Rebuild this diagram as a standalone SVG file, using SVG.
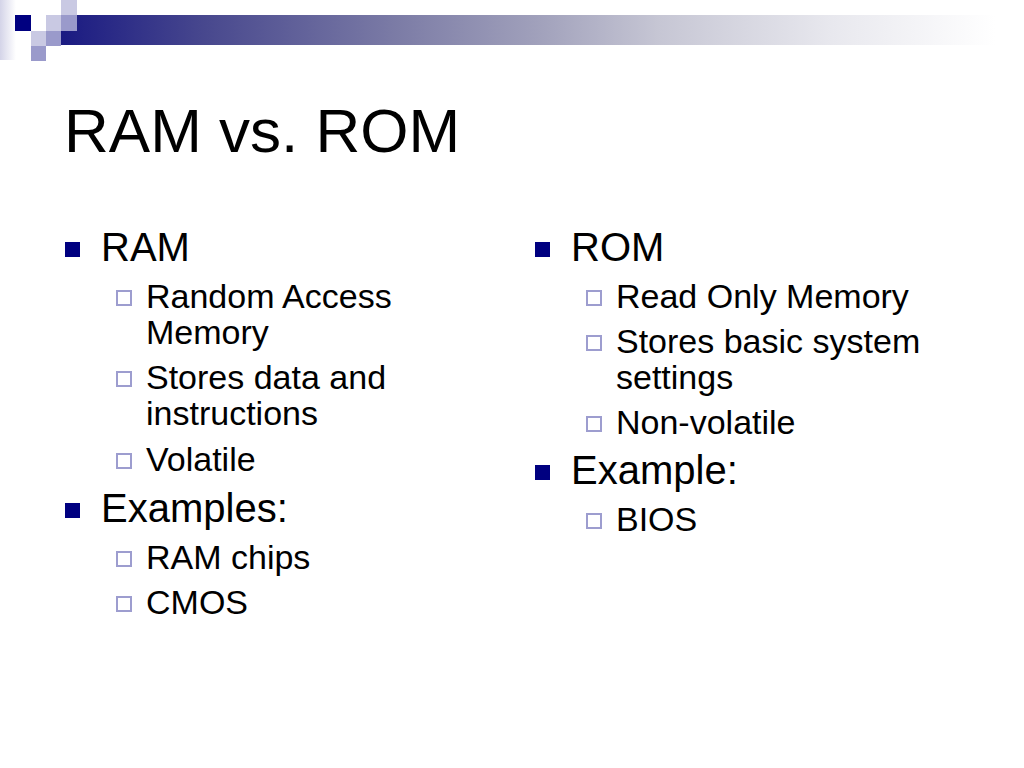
<svg xmlns="http://www.w3.org/2000/svg" width="1024" height="768" viewBox="0 0 1024 768">
  <defs>
    <linearGradient id="bar" x1="61" y1="0" x2="1024" y2="0" gradientUnits="userSpaceOnUse">
      <stop offset="0" stop-color="#1a1a82"/>
      <stop offset="0.15" stop-color="#48488e"/>
      <stop offset="0.35" stop-color="#7c7ca6"/>
      <stop offset="0.5" stop-color="#a2a2bc"/>
      <stop offset="0.62" stop-color="#c6c6d4"/>
      <stop offset="0.8" stop-color="#e8e8ee"/>
      <stop offset="0.97" stop-color="#ffffff"/>
    </linearGradient>
    <linearGradient id="strip" x1="0" y1="0" x2="1" y2="0">
      <stop offset="0" stop-color="#d4d4e8"/>
      <stop offset="1" stop-color="#ffffff"/>
    </linearGradient>
    <style>
      .t { font-family: "Liberation Sans", Arial, sans-serif; fill: #000; }
      .title { font-size: 62px; }
      .l1 { font-size: 40px; }
      .l2 { font-size: 34px; }
      .b1 { fill: #000080; }
      .b2 { fill: none; stroke: #9d9dcf; stroke-width: 2; }
    </style>
  </defs>
  <rect width="1024" height="768" fill="#ffffff"/>

  <g id="decoration">
    <rect x="0" y="0" width="16" height="60" fill="url(#strip)"/>
    <rect x="61" y="15" width="963" height="30" fill="url(#bar)"/>
    <rect x="15" y="15" width="16" height="16" fill="#000080"/>
    <rect x="46" y="15" width="15" height="16" fill="#c9c9e3"/>
    <rect x="61" y="15" width="16" height="16" fill="#9a9acb"/>
    <rect x="61" y="0" width="16" height="15" fill="#c9c9e3"/>
    <rect x="31" y="31" width="15" height="15" fill="#c9c9e3"/>
    <rect x="46" y="31" width="15" height="15" fill="#9a9acb"/>
    <rect x="31" y="46" width="15" height="15" fill="#9a9acb"/>
  </g>

  <g id="title">
    <text class="t title" x="64" y="152">RAM vs. ROM</text>
  </g>

  <g id="ram-column">
    <rect class="b1" x="65" y="242" width="15" height="15"/>
    <text class="t l1" x="101" y="261">RAM</text>
    <rect class="b2" x="117" y="291" width="14" height="14"/>
    <text class="t l2" x="146" y="308">Random Access</text>
    <text class="t l2" x="146" y="344">Memory</text>
    <rect class="b2" x="117" y="372" width="14" height="14"/>
    <text class="t l2" x="146" y="389">Stores data and</text>
    <text class="t l2" x="146" y="425">instructions</text>
    <rect class="b2" x="117" y="454" width="14" height="14"/>
    <text class="t l2" x="146" y="471">Volatile</text>
    <rect class="b1" x="65" y="503" width="15" height="15"/>
    <text class="t l1" x="101" y="522">Examples:</text>
    <rect class="b2" x="117" y="552" width="14" height="14"/>
    <text class="t l2" x="146" y="569">RAM chips</text>
    <rect class="b2" x="117" y="597" width="14" height="14"/>
    <text class="t l2" x="146" y="614">CMOS</text>
  </g>

  <g id="rom-column">
    <rect class="b1" x="535" y="242" width="15" height="15"/>
    <text class="t l1" x="571" y="261">ROM</text>
    <rect class="b2" x="587" y="291" width="14" height="14"/>
    <text class="t l2" x="616" y="308">Read Only Memory</text>
    <rect class="b2" x="587" y="336" width="14" height="14"/>
    <text class="t l2" x="616" y="353">Stores basic system</text>
    <text class="t l2" x="616" y="389">settings</text>
    <rect class="b2" x="587" y="417" width="14" height="14"/>
    <text class="t l2" x="616" y="434">Non-volatile</text>
    <rect class="b1" x="535" y="465" width="15" height="15"/>
    <text class="t l1" x="571" y="484">Example:</text>
    <rect class="b2" x="587" y="514" width="14" height="14"/>
    <text class="t l2" x="616" y="531">BIOS</text>
  </g>
</svg>
